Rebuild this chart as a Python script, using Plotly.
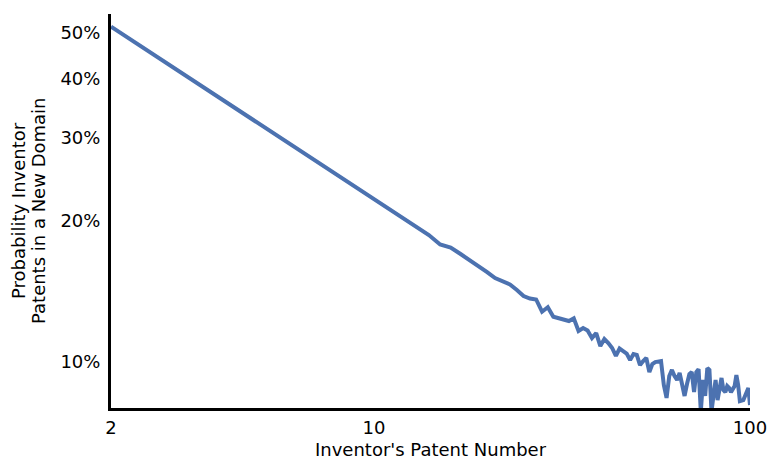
import plotly.graph_objects as go

# Inventor's patent number (2nd patent onward)
patent_number = list(range(2, 101))

# Share of inventors whose n-th patent falls in a new technology domain
prob_new_domain = [
    0.5157, 0.4173, 0.3588, 0.3194, 0.2904, 0.2681, 0.2498, 0.2349, 0.2223, 0.2116,   # 2-11
    0.2021, 0.1945, 0.1861, 0.1777, 0.1751, 0.1696, 0.1647, 0.1600, 0.1553, 0.1508,   # 12-21
    0.1483, 0.1461, 0.1422, 0.1381, 0.1364, 0.1358, 0.1279, 0.1307, 0.1248, 0.1240,   # 22-31
    0.1231, 0.1222, 0.1238, 0.1164, 0.1181, 0.1167, 0.1124, 0.1152, 0.1081, 0.1119,   # 32-41
    0.1097, 0.1071, 0.1030, 0.1068, 0.1055, 0.1042, 0.1010, 0.1040, 0.1035, 0.0985,   # 42-51
    0.1005, 0.1020, 0.0952, 0.0990, 0.1000, 0.1002, 0.1005, 0.0894, 0.0839, 0.0934,   # 52-61
    0.0962, 0.0934, 0.0916, 0.0948, 0.0889, 0.0847, 0.0898, 0.0943, 0.0952, 0.0863,   # 62-71
    0.0952, 0.0966, 0.0785, 0.0916, 0.0847, 0.0971, 0.0962, 0.0785, 0.0851, 0.0916,   # 72-81
    0.0830, 0.0872, 0.0925, 0.0872, 0.0863, 0.0889, 0.0881, 0.0863, 0.0876, 0.0889,   # 82-91
    0.0938, 0.0894, 0.0826, 0.0826, 0.0830, 0.0847, 0.0868, 0.0881, 0.0810,           # 92-100
]

x_ticks = [2, 10, 100]
x_tick_labels = ["2", "10", "100"]
y_ticks = [0.10, 0.20, 0.30, 0.40, 0.50]
y_tick_labels = ["10%", "20%", "30%", "40%", "50%"]

FONT = "DejaVu Sans"
FONT_SIZE = 18
LINE_BLUE = "#4C72B0"

fig = go.Figure(
    go.Scatter(
        x=patent_number,
        y=prob_new_domain,
        mode="lines",
        line=dict(color=LINE_BLUE, width=4),
        hoverinfo="skip",
    )
)

axis_style = dict(
    type="log",
    showgrid=False,
    zeroline=False,
    showline=True,
    linecolor="black",
    linewidth=3,
    ticks="",
    tickfont=dict(family=FONT, size=FONT_SIZE, color="black"),
    automargin=False,
    ticklabeloverflow="allow",
)

fig.update_layout(
    width=767,
    height=458,
    margin=dict(l=111, r=17, t=14, b=50),
    paper_bgcolor="white",
    plot_bgcolor="white",
    showlegend=False,
    font=dict(family=FONT, size=FONT_SIZE, color="black"),
    xaxis=dict(
        axis_style,
        range=[0.30103, 2.0],
        tickvals=x_ticks,
        ticktext=x_tick_labels,
        ticklabelstandoff=1,
    ),
    yaxis=dict(
        axis_style,
        range=[-1.0977, -0.2606],
        tickvals=y_ticks,
        ticktext=y_tick_labels,
        ticklabelstandoff=4,
    ),
    annotations=[
        dict(
            text="Inventor's Patent Number",
            xref="paper", yref="paper",
            x=0.5, y=0,
            xanchor="center", yanchor="middle",
            yshift=-41,
            height=16,
            valign="middle",
            borderpad=0,
            showarrow=False,
        ),
        dict(
            text="Probability Inventor",
            xref="paper", yref="paper",
            x=0, y=0.5,
            xanchor="center", yanchor="middle",
            xshift=-93,
            textangle=-90,
            showarrow=False,
        ),
        dict(
            text="Patents in a New Domain",
            xref="paper", yref="paper",
            x=0, y=0.5,
            xanchor="center", yanchor="middle",
            xshift=-73,
            textangle=-90,
            showarrow=False,
        ),
    ],
)

fig.write_html("out.html")
